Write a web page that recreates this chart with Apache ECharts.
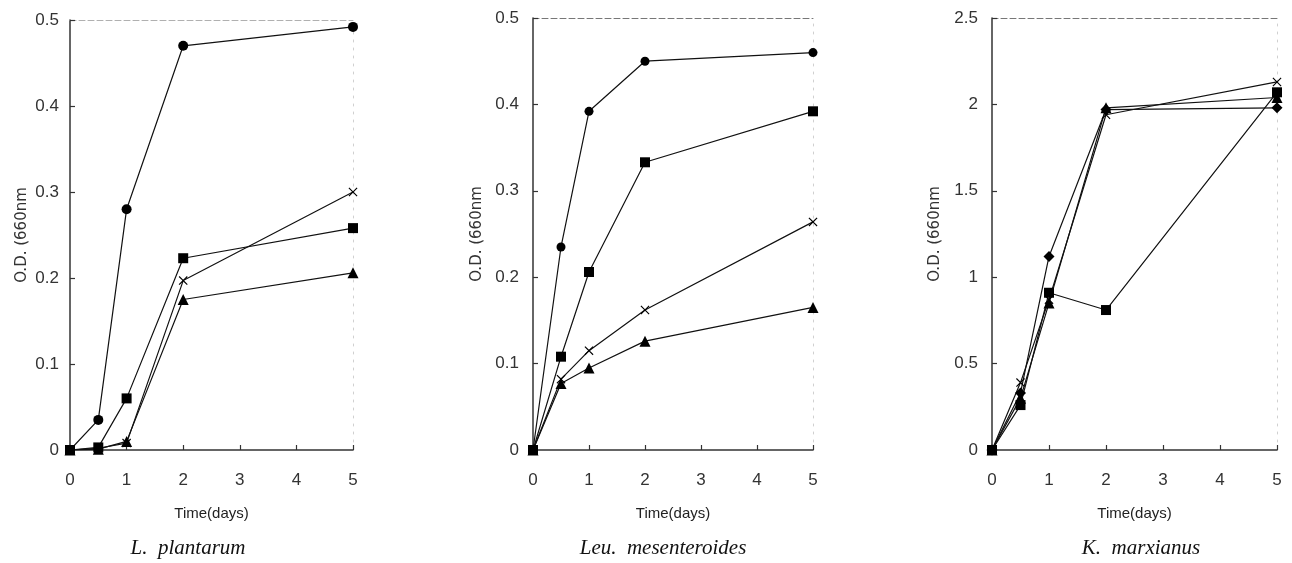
<!DOCTYPE html>
<html>
<head>
<meta charset="utf-8">
<script src="https://cdn.jsdelivr.net/npm/echarts@6/dist/echarts.min.js"></script>
<style>
html,body{margin:0;padding:0;background:#fff;}
#chart{width:1292px;height:563px;}
</style>
</head>
<body>
<div id="chart"></div>
<script>
// Time points (days)
const days = [0, 0.5, 1, 2, 5];
const xTicks = [0, 1, 2, 3, 4, 5];

// Panel 1: L. plantarum
const p1Circle   = [0, 0.035, 0.28, 0.47, 0.492];
const p1Square   = [0, 0.003, 0.06, 0.223, 0.258];
const p1Triangle = [0, 0.001, 0.01, 0.175, 0.206];
const p1Cross    = [0, 0.002, 0.008, 0.197, 0.300];

// Panel 2: Leu. mesenteroides
const p2Circle   = [0, 0.235, 0.392, 0.450, 0.460];
const p2Square   = [0, 0.108, 0.206, 0.333, 0.392];
const p2Cross    = [0, 0.082, 0.115, 0.162, 0.264];
const p2Triangle = [0, 0.077, 0.095, 0.126, 0.165];

// Panel 3: K. marxianus
const p3Diamond  = [0, 0.33, 1.12, 1.97, 1.98];
const p3Square   = [0, 0.26, 0.91, 0.81, 2.07];
const p3Triangle = [0, 0.30, 0.85, 1.98, 2.04];
const p3Cross    = [0, 0.39, 0.87, 1.94, 2.13];

const panelTitles = ['L.  plantarum', 'Leu.  mesenteroides', 'K.  marxianus'];
const xTitle = 'Time(days)';
const yTitle = 'O.D. (660nm';
const yMax = [0.5, 0.5, 2.5];
const yStep = [0.1, 0.1, 0.5];

const crossPath = 'path://M0,0.9L0.9,0L5,4.1L9.1,0L10,0.9L5.9,5L10,9.1L9.1,10L5,5.9L0.9,10L0,9.1L4.1,5Z';

const grids = [
  {left: 70, top: 20, width: 283, height: 430},
  {left: 533, top: 18, width: 280, height: 432},
  {left: 992, top: 18, width: 285, height: 432}
];
const yNameGap = [40, 48, 49];
const yLabelMargin = [11, 14, 14];
const topLineColor = ['#b0b0b0', '#777', '#777'];

const xAxes = [], yAxes = [];
grids.forEach((g, i) => {
  xAxes.push({
    gridIndex: i, type: 'value', min: 0, max: 5, interval: 1, position: 'bottom',
    axisLine: {show: true, onZero: false, lineStyle: {color: '#333', width: 1.5}},
    axisTick: {show: true, inside: true, length: 5, lineStyle: {color: '#333', width: 1.2}},
    axisLabel: {margin: 22, fontSize: 17, color: '#333', fontFamily: 'Liberation Sans, Arial, sans-serif',
      formatter: v => xTicks.includes(v) ? String(v) : ''},
    splitLine: {show: false},
    name: xTitle, nameLocation: 'middle', nameGap: 56,
    nameTextStyle: {fontSize: 15, color: '#222', fontFamily: 'Liberation Sans, Arial, sans-serif'}
  });
  xAxes.push({
    gridIndex: i, type: 'value', min: 0, max: 5, position: 'top',
    axisLine: {show: true, onZero: false, lineStyle: {color: topLineColor[i], width: 1, type: [6, 3]}},
    axisTick: {show: false}, axisLabel: {show: false}, splitLine: {show: false}
  });
  yAxes.push({
    gridIndex: i, type: 'value', min: 0, max: yMax[i], interval: yStep[i], position: 'left',
    axisLine: {show: true, onZero: false, lineStyle: {color: '#333', width: 1.5}},
    axisTick: {show: true, inside: true, length: 5, lineStyle: {color: '#333', width: 1.2}},
    axisLabel: {margin: yLabelMargin[i], fontSize: 17, color: '#333', fontFamily: 'Liberation Sans, Arial, sans-serif'},
    splitLine: {show: false},
    name: yTitle, nameLocation: 'middle', nameGap: yNameGap[i],
    nameTextStyle: {fontSize: 15, color: '#333', fontFamily: 'DejaVu Sans, sans-serif'}
  });
  yAxes.push({
    gridIndex: i, type: 'value', min: 0, max: yMax[i], position: 'right',
    axisLine: {show: true, onZero: false, lineStyle: {color: '#d0d0d0', width: 1, type: [2, 6]}},
    axisTick: {show: false}, axisLabel: {show: false}, splitLine: {show: false}
  });
});

function mk(vals, symbol, size, gi) {
  return {
    type: 'line', xAxisIndex: gi * 2, yAxisIndex: gi * 2,
    data: days.map((d, k) => [d, vals[k]]),
    symbol: symbol, symbolSize: size, showSymbol: true,
    lineStyle: {color: '#111', width: 1.2},
    itemStyle: {color: '#000', borderWidth: 0},
    animation: false, silent: true
  };
}

const series = [
  mk(p1Triangle, 'triangle', 11, 0),
  mk(p1Cross, crossPath, 9, 0),
  mk(p1Square, 'rect', 10, 0),
  mk(p1Circle, 'circle', 10, 0),

  mk(p2Triangle, 'triangle', 11, 1),
  mk(p2Cross, crossPath, 9, 1),
  mk(p2Square, 'rect', 10, 1),
  mk(p2Circle, 'circle', 9, 1),

  mk(p3Triangle, 'triangle', 11, 2),
  mk(p3Cross, crossPath, 9, 2),
  mk(p3Square, 'rect', 10, 2),
  mk(p3Diamond, 'diamond', 11, 2)
];

const titleCenters = [188, 663, 1141];
const graphic = panelTitles.map((t, i) => ({
  type: 'text', x: titleCenters[i], y: 548,
  style: {text: t, fill: '#111', font: 'italic 21px "Liberation Serif", "Times New Roman", serif',
    textAlign: 'center', textVerticalAlign: 'middle'}
}));

const chart = echarts.init(document.getElementById('chart'), null, {renderer: 'canvas'});
chart.setOption({
  backgroundColor: '#fff',
  animation: false,
  grid: grids,
  xAxis: xAxes,
  yAxis: yAxes,
  series: series,
  graphic: graphic
});
</script>
</body>
</html>
